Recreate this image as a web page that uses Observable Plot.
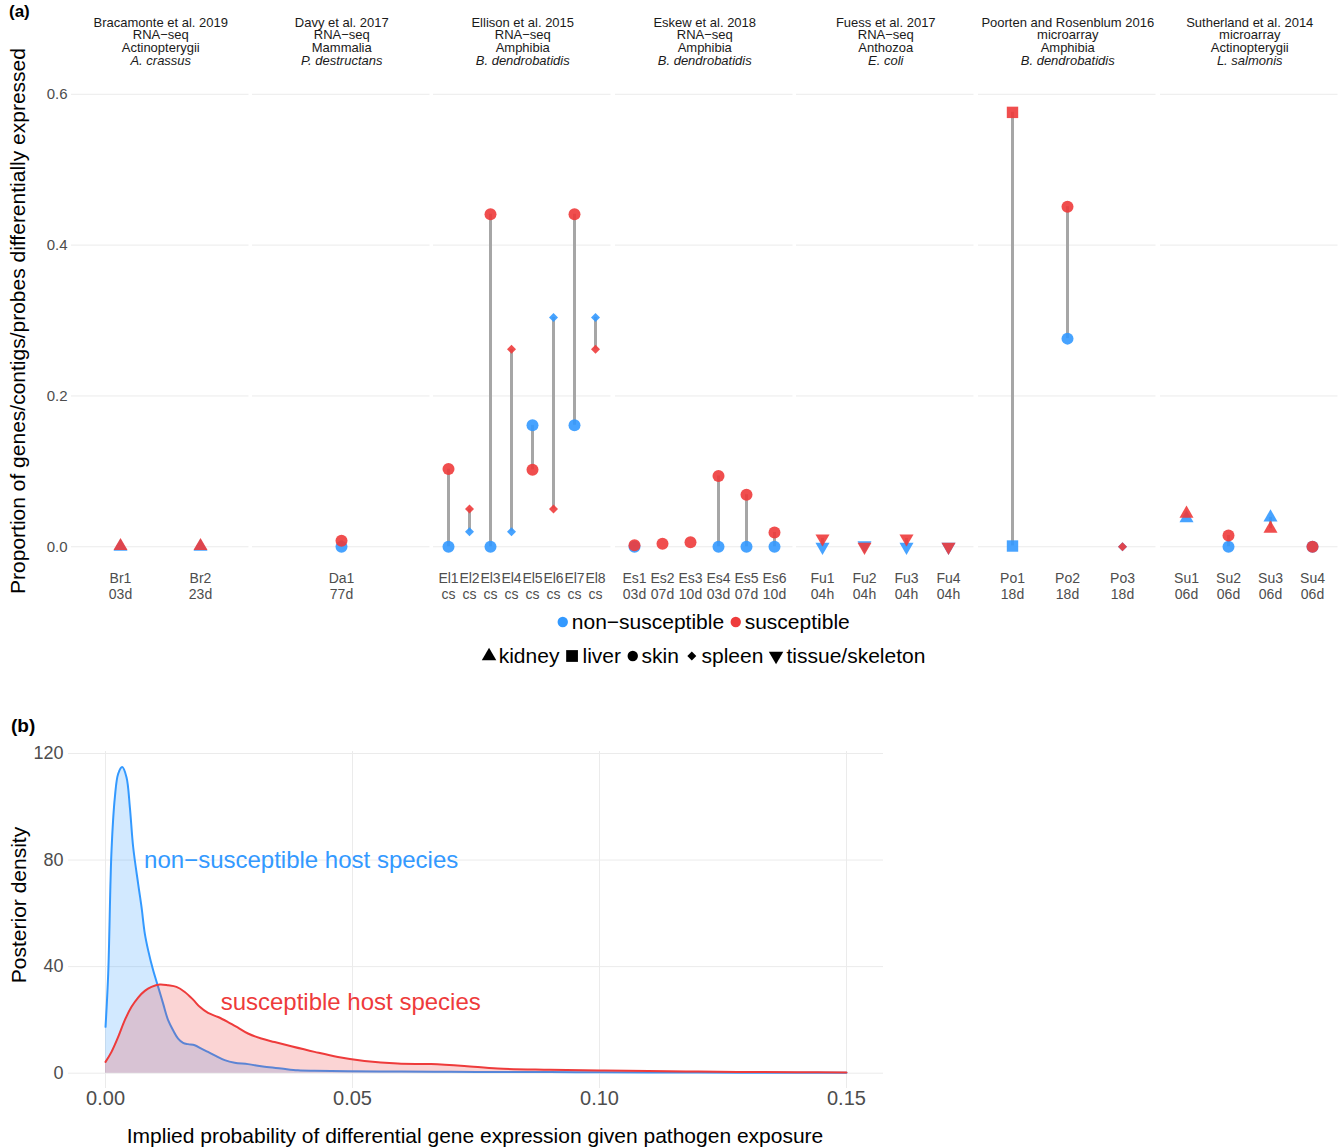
<!DOCTYPE html>
<html><head><meta charset="utf-8">
<script src="https://cdn.jsdelivr.net/npm/d3@7"></script>
<script src="https://cdn.jsdelivr.net/npm/@observablehq/plot@0.6"></script>
<style>
body{margin:0;background:#fff;font-family:"Liberation Sans",Arial,Helvetica,sans-serif;}
#root{position:relative;width:1343px;height:1147px;overflow:hidden;background:#fff}
.abs{position:absolute}
#root svg{overflow:visible;max-width:none}
.hdr{position:absolute;text-align:center;font-size:13px;line-height:12.7px;color:#1a1a1a;white-space:nowrap}
.leg{position:absolute;display:flex;align-items:center;justify-content:center;font-size:21px;color:#000;white-space:nowrap}
.leg span{margin-right:5px}
</style></head><body><div id="root"></div>
<script>
// ---------------- DATA: panel (a) ----------------
const studies = ["Bracamonte et al. 2019","Davy et al. 2017","Ellison et al. 2015","Eskew et al. 2018","Fuess et al. 2017","Poorten and Rosenblum 2016","Sutherland et al. 2014"];
const methods = ["RNA\u2212seq","RNA\u2212seq","RNA\u2212seq","RNA\u2212seq","RNA\u2212seq","microarray","microarray"];
const hostClasses = ["Actinopterygii","Mammalia","Amphibia","Amphibia","Anthozoa","Amphibia","Actinopterygii"];
const pathogens = ["A. crassus","P. destructans","B. dendrobatidis","B. dendrobatidis","E. coli","B. dendrobatidis","L. salmonis"];
const sampleIds = [
  ["Br1","Br2"],["Da1"],
  ["El1","El2","El3","El4","El5","El6","El7","El8"],
  ["Es1","Es2","Es3","Es4","Es5","Es6"],
  ["Fu1","Fu2","Fu3","Fu4"],["Po1","Po2","Po3"],["Su1","Su2","Su3","Su4"]
];
const sampleTimes = [
  ["03d","23d"],["77d"],
  ["cs","cs","cs","cs","cs","cs","cs","cs"],
  ["03d","07d","10d","03d","07d","10d"],
  ["04h","04h","04h","04h"],["18d","18d","18d"],["06d","06d","06d","06d"]
];
const sampleTissues = [
  ["kidney","kidney"],["skin"],
  ["skin","spleen","skin","spleen","skin","spleen","skin","spleen"],
  ["skin","skin","skin","skin","skin","skin"],
  ["tissue/skeleton","tissue/skeleton","tissue/skeleton","tissue/skeleton"],
  ["liver","skin","spleen"],["kidney","skin","kidney","skin"]
];
const nonSusceptible = [
  [0,0],[0],
  [0,0.020,0,0.020,0.161,0.304,0.161,0.304],
  [0,null,null,0,0,0],
  [0,0.002,0,0],
  [0.001,0.276,0],
  [0.038,0,0.039,0]
];
const susceptible = [
  [0.001,0.001],[0.008],
  [0.103,0.050,0.441,0.262,0.102,0.050,0.441,0.262],
  [0.002,0.004,0.006,0.094,0.069,0.019],
  [0.011,0,0.011,0],
  [0.576,0.451,0],
  [0.044,0.015,0.024,0]
];
const tissueKeys = ["kidney","liver","skin","spleen","tissue/skeleton"];
const groupKeys = ["non\u2212susceptible","susceptible"];
const yTicksA = [0,0.2,0.4,0.6];

// ---------------- DATA: panel (b) ----------------
const nonSusX = [0,0.00054,0.00121,0.00189,0.00256,0.00337,0.00424,0.00492,0.00559,0.0066,0.00728,0.00795,0.00863,0.00964,0.01065,0.01166,0.01267,0.01368,0.01469,0.0157,0.01671,0.01806,0.0194,0.02075,0.0221,0.02412,0.02614,0.02884,0.03221,0.03558,0.03895,0.04232,0.04905,0.06,0.07,0.08,0.09,0.10,0.11,0.12,0.13,0.14,0.15];
const nonSusD = [17.4,37.4,83.6,103.6,112.4,114.9,111.1,99.9,84.9,71.1,62.4,52.4,46.1,38.6,32.4,26.1,19.9,16.1,13.0,11.4,10.9,10.5,9.2,8.0,6.7,4.9,3.9,3.4,2.4,1.75,1.1,0.9,0.75,0.6,0.5,0.45,0.4,0.35,0.3,0.25,0.2,0.2,0.15];
const susX = [0,0.00121,0.00256,0.0039,0.00526,0.0066,0.00795,0.0093,0.01098,0.01267,0.01435,0.01604,0.01772,0.01907,0.02075,0.02277,0.02479,0.02681,0.02884,0.03153,0.03423,0.0376,0.04232,0.04704,0.05243,0.05917,0.06591,0.07264,0.07938,0.09,0.10,0.11,0.12,0.13,0.14,0.15];
const susD = [4.25,8.0,13.6,19.9,24.9,28.4,30.9,32.4,33.3,33.0,32.4,30.5,27.6,24.9,22.6,21.1,19.2,17.1,14.9,13.0,11.7,10.1,8.0,6.1,4.6,3.6,3.4,2.7,1.75,1.3,1.0,0.8,0.6,0.45,0.35,0.25];
const curveLabelText = ["non\u2212susceptible host species","susceptible host species"];
const curveLabelX = [0.0078,0.0233];
const curveLabelY = [79.9,26.6];
const xTicksB = [0,0.05,0.10,0.15];
const yTicksB = [0,40,80,120];

// ---------------- STYLE ----------------
const BLUE = "#3399ff", RED = "#ee3b3b", GRID = "#ebebeb", TICK = "#4d4d4d";
const FONT = '"Liberation Sans",Arial,Helvetica,sans-serif';

// symbols (ggplot-like)
const rad = s => Math.sqrt(s/Math.PI);
const SYM = {
  kidney: {draw(c,s){const r=rad(s);c.moveTo(0,-1.35*r);c.lineTo(1.17*r,0.68*r);c.lineTo(-1.17*r,0.68*r);c.closePath();}},
  liver: {draw(c,s){const h=rad(s)*0.95;c.moveTo(-h,-h);c.lineTo(h,-h);c.lineTo(h,h);c.lineTo(-h,h);c.closePath();}},
  skin: {draw(c,s){const r=rad(s);c.moveTo(r,0);c.arc(0,0,r,0,2*Math.PI);c.closePath();}},
  spleen: {draw(c,s){const h=rad(s)*0.75;c.moveTo(0,-h);c.lineTo(h,0);c.lineTo(0,h);c.lineTo(-h,0);c.closePath();}},
  "tissue/skeleton": {draw(c,s){const r=rad(s);c.moveTo(0,1.35*r);c.lineTo(1.17*r,-0.68*r);c.lineTo(-1.17*r,-0.68*r);c.closePath();}}
};

const root = document.getElementById("root");
function place(el, left, top){ el.style.position="absolute"; el.style.left=left+"px"; el.style.top=top+"px"; el.style.maxWidth="none"; root.appendChild(el); return el; }
function div(cls, html, css){ const d=document.createElement("div"); if(cls) d.className=cls; d.innerHTML=html; Object.assign(d.style, css||{}); root.appendChild(d); return d; }

// ---------------- PANEL (a) ----------------
const panelLefts = [72,253,434,616,797,979,1161];
const PW = 177.5, PTOP = 90, PH = 478, AXL = 72;

studies.forEach((study,i)=>{
  const ids = sampleIds[i];
  const rows = [], segs = [];
  ids.forEach((id,j)=>{
    const t = sampleTissues[i][j], a = nonSusceptible[i][j], b = susceptible[i][j];
    if (a!=null) rows.push({id, group:groupKeys[0], tissue:t, value:a});
    if (b!=null) rows.push({id, group:groupKeys[1], tissue:t, value:b});
    if (a!=null && b!=null) segs.push({id, lo:Math.min(a,b), hi:Math.max(a,b)});
  });
  const first = i===0;
  const ml = first ? AXL : 0;
  const svg = Plot.plot({
    width: PW + ml, height: PH + 40,
    marginLeft: ml, marginRight: 0, marginTop: 0, marginBottom: 40,
    style: {fontFamily: FONT, background: "transparent", overflow: "visible"},
    x: {type: "point", domain: ids, padding: 0.6},
    y: {domain: [-0.0288, 0.605], axis: null},
    symbol: {domain: tissueKeys, range: tissueKeys.map(k=>SYM[k])},
    marks: [
      Plot.ruleY(yTicksA, {stroke: GRID, strokeWidth: 1}),
      first ? Plot.axisY({ticks: yTicksA, tickFormat: d3.format(".1f"), tickSize: 0, tickPadding: 4, fontSize: 15, fill: TICK, label: null}) : null,
      Plot.axisX({tickSize: 0, tickPadding: 3, fontSize: 14, fill: TICK, lineHeight: 1.15, label: null,
        tickFormat: d => d + "\n" + sampleTimes[i][ids.indexOf(d)]}),
      Plot.ruleX(segs, {x: "id", y1: "lo", y2: "hi", stroke: "#a6a6a6", strokeWidth: 3}),
      Plot.dot(rows.filter(d=>d.group===groupKeys[0]), {x: "id", y: "value", symbol: "tissue", r: 6, fill: BLUE, fillOpacity: 0.9, stroke: "none"}),
      Plot.dot(rows.filter(d=>d.group===groupKeys[1]), {x: "id", y: "value", symbol: "tissue", r: 6, fill: RED, fillOpacity: 0.9, stroke: "none"})
    ]
  });
  place(svg, panelLefts[i] - ml - 1, PTOP);
  div("hdr", `${study}<br>${methods[i]}<br>${hostClasses[i]}<br><i>${pathogens[i]}</i>`,
    {left: panelLefts[i]+"px", width: PW+"px", top: "16.5px"});
});

div("abs", "(a)", {left:"9px", top:"2px", fontSize:"17px", fontWeight:"bold"});
div("abs", "Proportion of genes/contigs/probes differentially expressed",
  {left:"18px", top:"321px", fontSize:"21px", whiteSpace:"nowrap", transform:"translate(-50%,-50%) rotate(-90deg)", color:"#000"});

function symSvg(key, color, r){
  const p = d3.path(); SYM[key].draw(p, r*r*Math.PI);
  return `<svg width="${2*r*1.3}" height="22" viewBox="${-r*1.3} -11 ${2*r*1.3} 22" style="overflow:visible;margin-right:2px"><path d="${p}" fill="${color}"/></svg>`;
}
div("leg", `${symSvg("skin", BLUE, 5.2)}<span>${groupKeys[0]}</span>${symSvg("skin", RED, 5.2)}<span>${groupKeys[1]}</span>`,
  {left:"72px", width:"1267px", top:"610px", height:"24px"});
div("leg", tissueKeys.map(k=>`${symSvg(k, "#000", k==="skin"?5.2:(k==="spleen"?6:6.2))}<span>${k}</span>`).join(""),
  {left:"72px", width:"1267px", top:"644px", height:"24px"});

// ---------------- PANEL (b) ----------------
const nonSus = nonSusX.map((x,k)=>({x, d: nonSusD[k]}));
const sus = susX.map((x,k)=>({x, d: susD[k]}));
const labs = curveLabelText.map((t,k)=>({t, x: curveLabelX[k], y: curveLabelY[k], c: k===0?BLUE:RED}));
const BL = 68, BTOP = 751, BH = 337, BMT = 10, BMB = 34;
const svgB = Plot.plot({
  width: 883, height: BMT + BH + BMB,
  marginLeft: BL, marginRight: 0, marginTop: BMT, marginBottom: BMB,
  style: {fontFamily: FONT, background: "transparent", overflow: "visible"},
  x: {domain: [-0.0075, 0.1575], axis: null},
  y: {domain: [-5.75, 120.75], axis: null},
  marks: [
    Plot.ruleY(yTicksB, {stroke: GRID}),
    Plot.ruleX(xTicksB, {stroke: GRID}),
    Plot.axisX({ticks: xTicksB, tickFormat: d3.format(".2f"), tickSize: 0, tickPadding: 2, fontSize: 20, fill: TICK, label: null}),
    Plot.axisY({ticks: yTicksB, tickSize: 0, tickPadding: 5, fontSize: 18, fill: TICK, label: null}),
    Plot.areaY(nonSus, {x: "x", y: "d", fill: BLUE, fillOpacity: 0.22, curve: "catmull-rom"}),
    Plot.lineY(nonSus, {x: "x", y: "d", stroke: BLUE, strokeWidth: 2, curve: "catmull-rom"}),
    Plot.areaY(sus, {x: "x", y: "d", fill: RED, fillOpacity: 0.22, curve: "catmull-rom"}),
    Plot.lineY(sus, {x: "x", y: "d", stroke: RED, strokeWidth: 2, curve: "catmull-rom"}),
    Plot.text(labs, {x: "x", y: "y", text: "t", fill: "c", fontSize: 24, textAnchor: "start"})
  ]
});
place(svgB, 0, BTOP - BMT);

div("abs", "(b)", {left:"11px", top:"715px", fontSize:"19px", fontWeight:"bold"});
div("abs", "Posterior density",
  {left:"19px", top:"905px", fontSize:"21px", whiteSpace:"nowrap", transform:"translate(-50%,-50%) rotate(-90deg)", color:"#000"});
div("abs", "Implied probability of differential gene expression given pathogen exposure",
  {left:"475px", top:"1136px", fontSize:"21px", whiteSpace:"nowrap", transform:"translate(-50%,-50%)", color:"#000"});
</script></body></html>
